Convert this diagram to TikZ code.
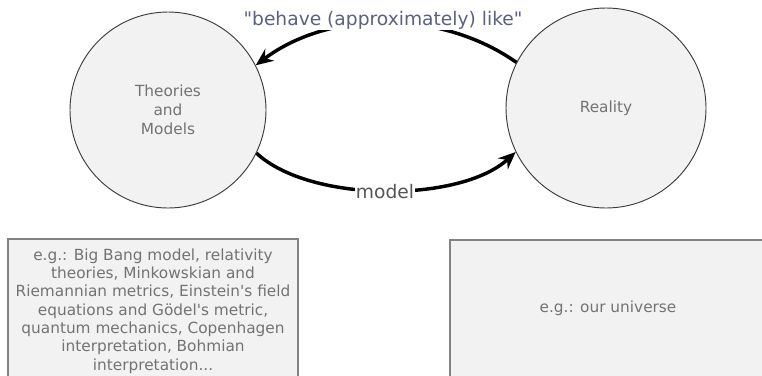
\documentclass[tikz,border=0pt]{standalone}
\usepackage{fontspec}
\setmainfont{DejaVu Sans}
\usetikzlibrary{arrows.meta}
\definecolor{fillgray}{RGB}{242,242,242}
\definecolor{circborder}{RGB}{60,60,60}
\definecolor{boxborder}{RGB}{130,130,130}
\definecolor{txtgray}{RGB}{115,115,115}
\definecolor{labblue}{RGB}{90,98,130}
\definecolor{labgray}{RGB}{85,85,85}
\tikzset{
  bubble/.style={circle, draw=circborder, line width=0.7pt, fill=fillgray,
    text=txtgray, align=center, inner sep=0pt,
    font=\fontsize{11.5}{14.2}\selectfont},
  infobox/.style={rectangle, draw=boxborder, line width=1.1pt, fill=fillgray, inner sep=0pt},
  boxtext/.style={text=txtgray, align=center, inner sep=0pt,
    font=\fontsize{11.5}{13.7}\selectfont},
  bigarrow/.style={line width=2.6pt, -{Stealth[length=13pt,width=11pt]}},
  arrowlabel/.style={fill=white, inner sep=1pt, font=\fontsize{14}{16}\selectfont}
}
\begin{document}
\begin{tikzpicture}[x=0.75pt,y=-0.75pt]
\useasboundingbox (0,0) rectangle (762,375);
\begin{scope}
\clip (0,0) rectangle (762,375);
\node[bubble, minimum size=147pt] (T) at (168,110) {Theories\\and\\Models};
\node[bubble, minimum size=150pt] (R) at (606,108) {Reality};
\node[infobox, minimum width=217.5pt, minimum height=120pt] (LB) at (153,319) {};
\node[boxtext] (LBT) at (153,311)
  {e.g.: Big Bang model, relativity\\theories, Minkowskian and\\Riemannian metrics, Einstein\textquotesingle s field\\equations and Gödel\textquotesingle s metric,\\quantum mechanics, Copenhagen\\interpretation, Bohmian\\interpretation...};
\node[infobox, minimum width=244.5pt, minimum height=120pt] (RB) at (613,320) {};
\node[boxtext] (RBT) at (608,308) {e.g.: our universe};
\draw[bigarrow] (R.153) .. controls +(-145:94) and +(-37:91) .. (T.27);
\node[arrowlabel, text=labblue] (L1) at (383,20) {\textquotedbl behave (approximately) like\textquotedbl};
\draw[bigarrow] (T.-26) .. controls (310,203) and (460,203) .. (R.206);
\node[arrowlabel, text=labgray] (L2) at (385,192) {model};
\end{scope}
\end{tikzpicture}
\end{document}
